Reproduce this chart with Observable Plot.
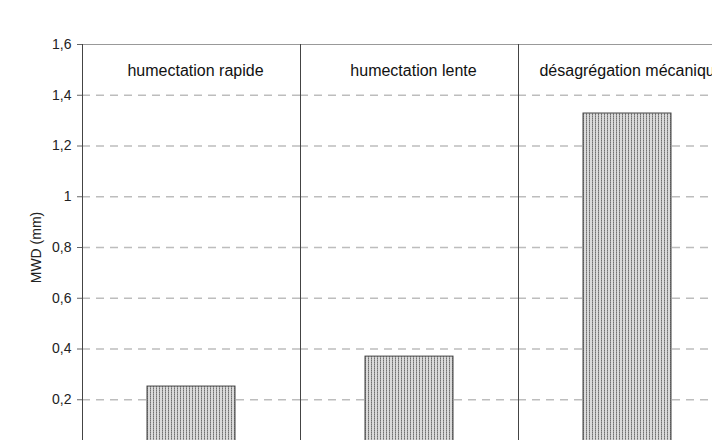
<!DOCTYPE html>
<html>
<head>
<meta charset="utf-8">
<script src="https://cdn.jsdelivr.net/npm/d3@7"></script>
<script src="https://cdn.jsdelivr.net/npm/@observablehq/plot@0.6"></script>
<style>
  html, body { margin: 0; padding: 0; background: #fff; }
</style>
</head>
<body>
<div id="chart"></div>
<script>
const categories = ["humectation rapide", "humectation lente", "désagrégation mécanique"];
const mwdValues = [0.252, 0.370, 1.328];
const yTicks = [0.2, 0.4, 0.6, 0.8, 1, 1.2, 1.4, 1.6];
const gridTicks = [0.2, 0.4, 0.6, 0.8, 1, 1.2, 1.4];
const yLabel = "MWD (mm)";

const data = categories.map((c, i) => ({ method: c, mwd: mwdValues[i] }));
const fmt = d => String(d).replace(".", ",");

const chart = Plot.plot({
  width: 712,
  height: 440,
  marginTop: 44,
  marginLeft: 82,
  marginRight: -24,
  marginBottom: -10,
  style: { fontFamily: "'Liberation Sans', Arial, sans-serif", fontSize: "14px", background: "#fff", overflow: "hidden" },
  fx: { domain: categories, padding: 0, axis: null },
  y: { domain: [0, 1.6] },
  marks: [
    Plot.ruleY(gridTicks, { stroke: "#bdbdbd", strokeWidth: 1.5, strokeDasharray: "8,6" }),
    Plot.barY(data, { fx: "method", y: "mwd", insetLeft: 65, insetRight: 65, fill: "url(#dots)", stroke: "#444", strokeWidth: 1 }),
    Plot.frame({ anchor: "top", stroke: "#999", strokeWidth: 1.2 }),
    Plot.frame({ anchor: "left", stroke: "#444", strokeWidth: 1 }),
    Plot.text(data, { fx: "method", text: "method", frameAnchor: "top", lineAnchor: "middle", dy: 26, dx: 4, fontSize: 16, fill: "#111" }),
    Plot.axisY({ ticks: yTicks, tickFormat: fmt, tickSize: 5, tickPadding: 6, fontSize: 14, color: "#222", stroke: "#666",
      label: null }),
    Plot.axisY({ ticks: [], tickSize: 0, fontSize: 14, color: "#222",
      label: yLabel, labelAnchor: "center", labelArrow: "none", labelOffset: 51 })
  ]
});

const ns = "http://www.w3.org/2000/svg";
const svg = chart.tagName.toLowerCase() === "svg" ? chart : chart.querySelector("svg");
const defs = document.createElementNS(ns, "defs");
defs.innerHTML = '<pattern id="dots" width="3" height="2" patternUnits="userSpaceOnUse">' +
  '<rect width="3" height="2" fill="#dadada"/><rect width="1" height="2" fill="#9a9a9a"/><rect width="1" height="1" fill="#707070"/></pattern>';
svg.insertBefore(defs, svg.firstChild);

document.getElementById("chart").appendChild(chart);
</script>
</body>
</html>
